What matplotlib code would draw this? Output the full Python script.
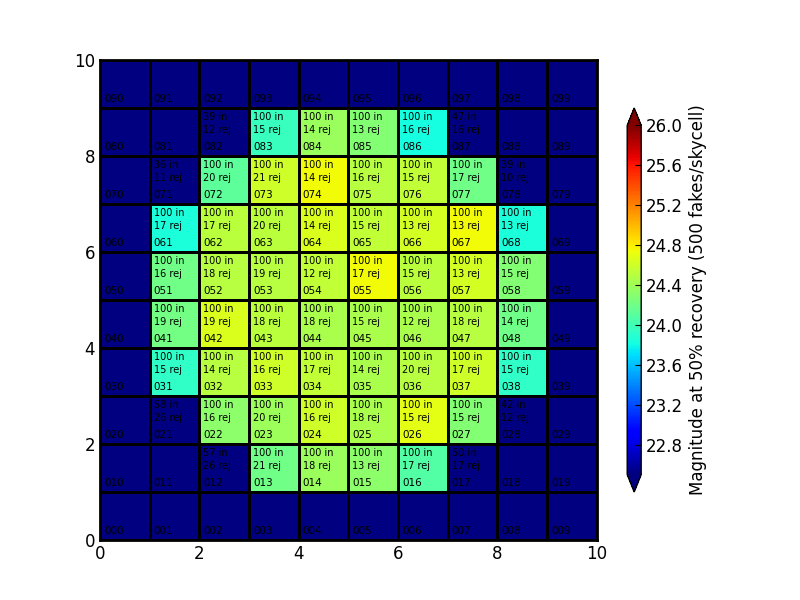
import numpy as np
import matplotlib
matplotlib.use("Agg")
import matplotlib.pyplot as plt
from matplotlib import colors

# ---- data ----
cell_ids = ["012", "013", "014", "015", "016", "017",
            "021", "022", "023", "024", "025", "026", "027", "028",
            "031", "032", "033", "034", "035", "036", "037", "038",
            "041", "042", "043", "044", "045", "046", "047", "048",
            "051", "052", "053", "054", "055", "056", "057", "058",
            "061", "062", "063", "064", "065", "066", "067", "068",
            "071", "072", "073", "074", "075", "076", "077", "078",
            "082", "083", "084", "085", "086", "087"]
n_in = [57, 100, 100, 100, 100, 50,
        58, 100, 100, 100, 100, 100, 100, 42,
        100, 100, 100, 100, 100, 100, 100, 100,
        100, 100, 100, 100, 100, 100, 100, 100,
        100, 100, 100, 100, 100, 100, 100, 100,
        100, 100, 100, 100, 100, 100, 100, 100,
        36, 100, 100, 100, 100, 100, 100, 39,
        39, 100, 100, 100, 100, 47]
n_rej = [26, 21, 18, 13, 17, 17,
         26, 16, 20, 16, 18, 15, 15, 12,
         15, 14, 16, 17, 14, 20, 17, 15,
         19, 19, 18, 18, 15, 12, 18, 14,
         16, 18, 19, 12, 17, 15, 13, 15,
         17, 17, 20, 14, 15, 13, 13, 13,
         11, 20, 21, 14, 16, 15, 17, 10,
         12, 15, 14, 13, 16, 16]
# magnitude at 50% recovery (nan = below colour range)
mag50 = [np.nan, 24.20, 24.38, 24.33, 24.08, np.nan,
         np.nan, 24.33, 24.40, 24.60, 24.45, 24.70, 24.28, np.nan,
         23.93, 24.50, 24.60, 24.55, 24.45, 24.50, 24.60, 23.93,
         24.22, 24.65, 24.52, 24.45, 24.45, 24.45, 24.50, 24.20,
         24.20, 24.50, 24.50, 24.55, 24.75, 24.52, 24.62, 24.28,
         23.85, 24.51, 24.52, 24.65, 24.55, 24.62, 24.75, 23.85,
         np.nan, 24.12, 24.60, 24.75, 24.50, 24.55, 24.20, np.nan,
         np.nan, 23.97, 24.38, 24.28, 23.82, np.nan]
vmin, vmax = 22.5, 26.0
cbar_ticks = [22.8, 23.2, 23.6, 24.0, 24.4, 24.8, 25.2, 25.6, 26.0]
cbar_label = "Magnitude at 50% recovery (500 fakes/skycell)"

# ---- build grid ----
grid = np.full((10, 10), np.nan)
for cid, m in zip(cell_ids, mag50):
    r, c = int(cid[1]), int(cid[2])
    grid[r, c] = m
grid = np.ma.masked_invalid(grid)

plt.rcParams['font.family'] = ['DejaVu Sans']
fig = plt.figure(figsize=(8, 6), dpi=100)
ax = fig.add_axes([0.125, 0.1, 0.621, 0.8])

cmap = plt.get_cmap('jet').copy()
under = cmap(0.0)
cmap.set_bad(under)
cmap.set_under(under)
cmap.set_over(cmap(1.0))
norm = colors.Normalize(vmin=vmin, vmax=vmax)

x = np.arange(11)
y = np.arange(11)
mesh = ax.pcolormesh(x, y, grid, cmap=cmap, norm=norm,
                     edgecolors='k', linewidth=2)
ax.set_facecolor(under)
ax.set_xlim(0, 10)
ax.set_ylim(0, 10)
ax.set_xticks(range(0, 11, 2))
ax.set_yticks(range(0, 11, 2))
ax.tick_params(direction='in', labelsize=12, length=5, top=True, right=True)
for s in ax.spines.values():
    s.set_linewidth(2)

info = {cid: (a, b) for cid, a, b in zip(cell_ids, n_in, n_rej)}
for r in range(10):
    for c in range(10):
        cid = "0%d%d" % (r, c)
        ax.text(c + 0.08, r + 0.19, cid, fontsize=7.5, ha='left', va='center')
        if cid in info:
            a, b = info[cid]
            ax.text(c + 0.08, r + 0.82, "%d in" % a, fontsize=7, ha='left', va='center')
            ax.text(c + 0.08, r + 0.54, "%d rej" % b, fontsize=7, ha='left', va='center')

cax = fig.add_axes([0.784, 0.18, 0.0175, 0.64])
cb = fig.colorbar(mesh, cax=cax, extend='both', ticks=cbar_ticks)
cb.ax.set_yticklabels(["%.1f" % t for t in cbar_ticks])
cb.ax.tick_params(labelsize=12, direction='in', length=4)
cb.set_label(cbar_label, fontsize=12)
cb.outline.set_linewidth(1)

fig.savefig("out.png", dpi=100)
